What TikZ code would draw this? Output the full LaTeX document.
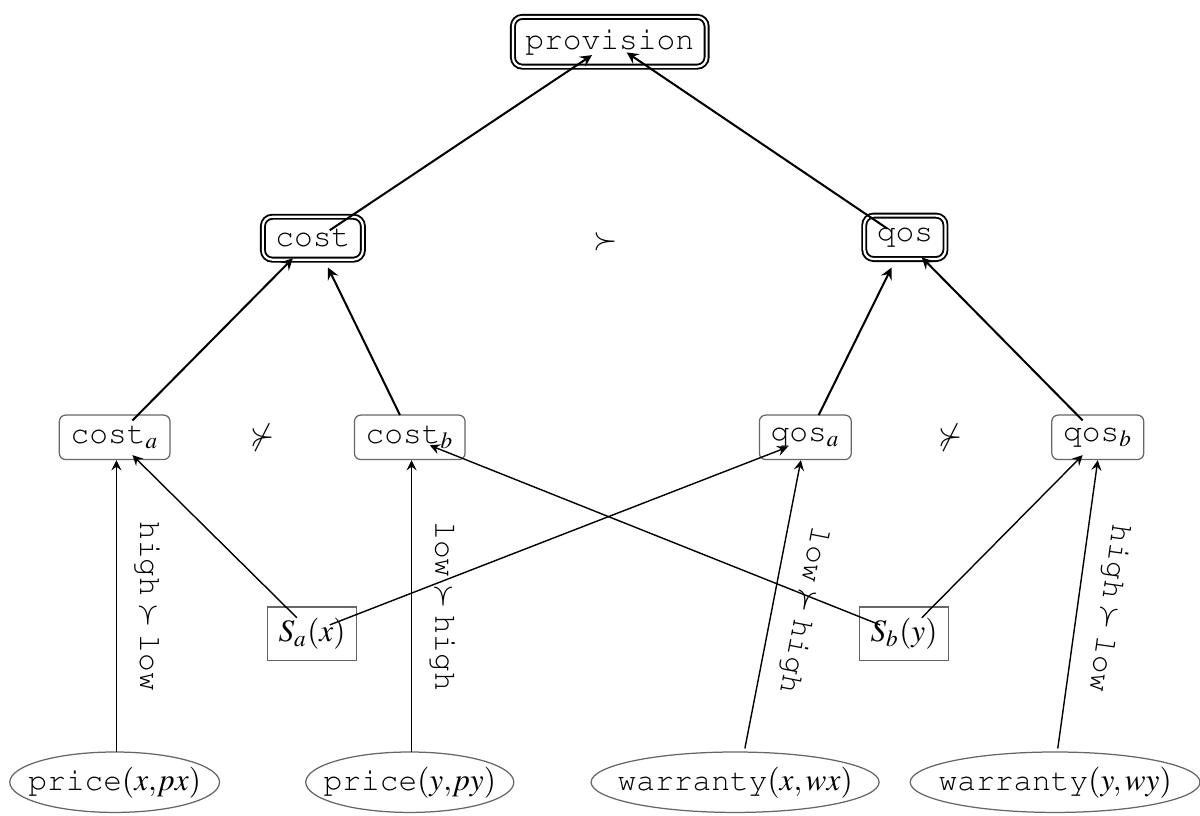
\documentclass[tikz,border=0pt]{standalone}
\usepackage{amssymb}
\usepackage{mathptmx}
\usepackage[T1]{fontenc}
\renewcommand{\ttdefault}{pcr}
\tikzset{
  dbox/.style={draw,double,line width=0.6pt,double distance=0.7pt,rounded corners=3pt,
    inner xsep=4pt,inner ysep=4pt,font=\ttfamily},
  rbox/.style={draw=black!60,rounded corners=2pt,inner xsep=3.6pt,minimum height=0.5cm,font=\ttfamily},
  sbox/.style={draw=black!60,inner xsep=3.6pt,minimum height=0.6cm},
  fact/.style={font=\ttfamily},
  hiarrow/.style={->,>=stealth,line width=0.65pt},
  loarrow/.style={<-,>=stealth,line width=0.45pt},
  edgelab/.style={sloped,allow upside down,above=2.5pt,font=\ttfamily}
}
\begin{document}
\begin{tikzpicture}
\useasboundingbox (0,0) rectangle (13.5,9.17);
% top goal and goals
\node[dbox] (prov) at (6.86,8.70) {provision};
\node[dbox] (cost) at (3.52,6.49) {cost};
\node[dbox] (qos) at (10.18,6.50) {qos};
\node (pref) at (6.81,6.45) {$\succ$};
% sub goals
\node[rbox] (costa) at (1.29,4.25) {cost$_a$};
\node (nprefc) at (2.95,4.25) {$\nsucc$};
\node[rbox] (costb) at (4.61,4.25) {cost$_b$};
\node[rbox] (qosa) at (9.06,4.25) {qos$_a$};
\node (nprefq) at (10.69,4.25) {$\nsucc$};
\node[rbox] (qosb) at (12.35,4.25) {qos$_b$};
% services
\node[sbox] (sa) at (3.51,2.04) {$S_a(x)$};
\node[sbox] (sb) at (10.17,2.04) {$S_b(y)$};
% facts
\node[fact] (px) at (1.29,0.37) {price$(x{,}px)$};
\node[fact] (py) at (4.61,0.37) {price$(y{,}py)$};
\node[fact] (wx) at (8.27,0.37) {warranty$(x,wx)$};
\node[fact] (wy) at (11.87,0.37) {warranty$(y,wy)$};
\draw[black!60] (px) ellipse [x radius=1.18cm,y radius=0.34cm];
\draw[black!60] (py) ellipse [x radius=1.17cm,y radius=0.34cm];
\draw[black!60] (wx) ellipse [x radius=1.62cm,y radius=0.34cm];
\draw[black!60] (wy) ellipse [x radius=1.63cm,y radius=0.34cm];
% upper edges
\draw[hiarrow] ([shift={(0.19,0.09)}]cost.center) -- ([shift={(-0.20,-0.15)}]prov.center);
\draw[hiarrow] ([shift={(-0.20,0.10)}]qos.center) -- ([shift={(0.19,-0.12)}]prov.center);
\draw[hiarrow] ([shift={(0.20,0.19)}]costa.center) -- ([shift={(-0.225,-0.225)}]cost.center);
\draw[hiarrow] ([shift={(-0.11,0.25)}]costb.center) -- ([shift={(0.17,-0.33)}]cost.center);
\draw[hiarrow] ([shift={(0.15,0.25)}]qosa.center) -- ([shift={(-0.15,-0.34)}]qos.center);
\draw[hiarrow] ([shift={(-0.17,0.19)}]qosb.center) -- ([shift={(0.19,-0.225)}]qos.center);
% lower edges
\draw[loarrow] ([xshift=0.02cm]costa.south) -- node[edgelab] {high${}\succ{}$low} ([shift={(0.02,0.34)}]px.center);
\draw[loarrow] ([xshift=0.02cm]costb.south) -- node[edgelab] {low${}\succ{}$high} ([shift={(0.02,0.34)}]py.center);
\draw[loarrow] ([xshift=-0.05cm]qosa.south) -- node[edgelab] {low${}\succ{}$high} ([shift={(0.11,0.38)}]wx.center);
\draw[loarrow] (qosb.south) -- node[edgelab] {high${}\succ{}$low} ([shift={(0.03,0.38)}]wy.center);
\draw[loarrow] ([shift={(0.20,-0.20)}]costa.center) -- ([shift={(-0.17,0.18)}]sa.center);
\draw[loarrow] ([shift={(-0.20,-0.11)}]qosa.center) -- ([shift={(0.20,0.10)}]sa.center);
\draw[loarrow] ([shift={(0.225,-0.09)}]costb.center) -- ([shift={(-0.27,0.10)}]sb.center);
\draw[loarrow] ([shift={(-0.17,-0.20)}]qosb.center) -- ([shift={(0.20,0.18)}]sb.center);
\end{tikzpicture}
\end{document}
